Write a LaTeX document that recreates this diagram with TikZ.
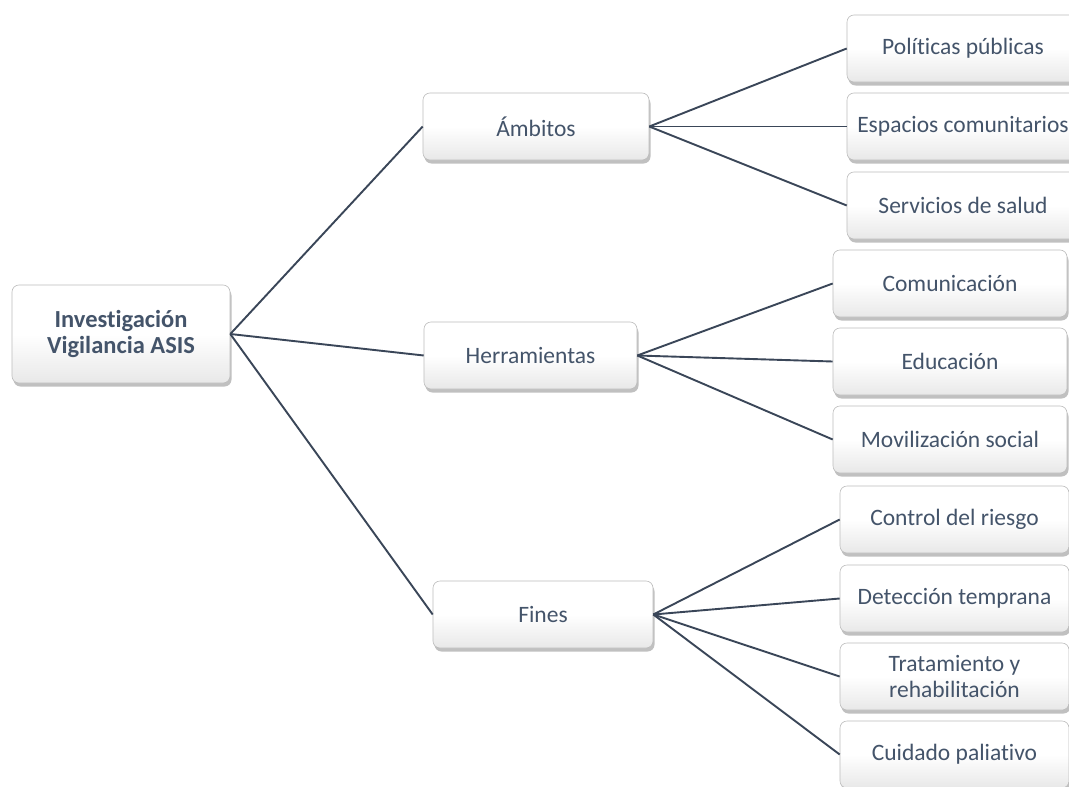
\documentclass[tikz,border=0pt]{standalone}
\usepackage{fontspec}
\setmainfont[Ligatures=NoCommon]{Carlito}
\usetikzlibrary{shadows}
\definecolor{txt}{HTML}{44546A}
\definecolor{edge}{HTML}{3A4658}
\definecolor{rim}{HTML}{BDBDBD}
\tikzset{
  box/.style={draw=rim, line width=0.6pt, rounded corners=7pt,
    top color=white, bottom color=black!9, middle color=white,
    drop shadow={shadow xshift=1.5pt, shadow yshift=-3.5pt, opacity=0.35, fill=black!70},
    text=txt, font=\fontsize{23.5}{26}\selectfont, align=center,
    inner sep=0pt, minimum height=67pt},
  rootbox/.style={box, font=\fontsize{24.5}{26}\selectfont\bfseries, minimum height=98pt, minimum width=218pt},
  midbox/.style={box},
  leafbox/.style={box, minimum width=232pt},
  link/.style={draw=edge, line width=1.9pt}
}
\begin{document}
\begin{tikzpicture}[x=1pt, y=-1pt]
\clip (0,0) rectangle (1069,787);
\useasboundingbox (0,0) rectangle (1069,787);
\fill[white] (0,0) rectangle (1069,787);

% root
\node[rootbox] (root) at (121,334) {Investigación\\Vigilancia ASIS};

% second level
\node[midbox, minimum width=226pt] (amb) at (536,126.5) {Ámbitos};
\node[midbox, minimum width=213pt] (her) at (530.5,355.5) {Herramientas};
\node[midbox, minimum width=220pt] (fin) at (543,614.5) {Fines};

% leaves of Ámbitos
\node[leafbox] (pol) at (963,48.5) {Políticas públicas};
\node[leafbox] (esp) at (963,126.5) {Espacios comunitarios};
\node[leafbox] (ser) at (963,205.5) {Servicios de salud};

% leaves of Herramientas
\node[leafbox, minimum width=234pt] (com) at (950,283.5) {Comunicación};
\node[leafbox, minimum width=234pt] (edu) at (950,361.5) {Educación};
\node[leafbox, minimum width=234pt] (mov) at (950,439.5) {Movilización social};

% leaves of Fines
\node[leafbox, minimum width=229pt] (con) at (954.5,519.5) {Control del riesgo};
\node[leafbox, minimum width=229pt] (det) at (954.5,598.5) {Detección temprana};
\node[leafbox, minimum width=229pt] (tra) at (954.5,676.5) {Tratamiento y\\rehabilitación};
\node[leafbox, minimum width=229pt] (cui) at (954.5,754.5) {Cuidado paliativo};

% connectors
\draw[link] (root.east) -- (amb.west);
\draw[link] (root.east) -- (her.west);
\draw[link] (root.east) -- (fin.west);
\foreach \c in {pol,esp,ser} \draw[link] (amb.east) -- (\c.west);
\foreach \c in {com,edu,mov} \draw[link] (her.east) -- (\c.west);
\foreach \c in {con,det,tra,cui} \draw[link] (fin.east) -- (\c.west);
\end{tikzpicture}
\end{document}
